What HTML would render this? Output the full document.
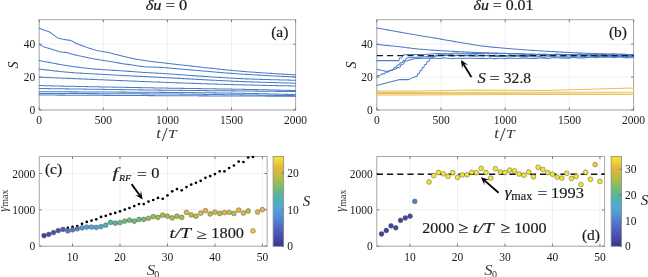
<!DOCTYPE html><html><head><meta charset="utf-8"><style>html,body{margin:0;padding:0;background:#fff;overflow:hidden} svg{display:block;will-change:transform} text{font-family:"Liberation Serif", serif;fill:#1a1a1a}</style></head><body>
<svg width="648" height="277" viewBox="0 0 648 277">
<rect width="648" height="277" fill="#fff"/>
<line x1="39.2" y1="19.7" x2="39.2" y2="110" stroke="#ececec" stroke-width="0.8"/>
<line x1="103.3" y1="19.7" x2="103.3" y2="110" stroke="#ececec" stroke-width="0.8"/>
<line x1="167.4" y1="19.7" x2="167.4" y2="110" stroke="#ececec" stroke-width="0.8"/>
<line x1="231.5" y1="19.7" x2="231.5" y2="110" stroke="#ececec" stroke-width="0.8"/>
<line x1="295.6" y1="19.7" x2="295.6" y2="110" stroke="#ececec" stroke-width="0.8"/>
<line x1="39.2" y1="110" x2="295.6" y2="110" stroke="#ececec" stroke-width="0.8"/>
<line x1="39.2" y1="77.1" x2="295.6" y2="77.1" stroke="#ececec" stroke-width="0.8"/>
<line x1="39.2" y1="44.2" x2="295.6" y2="44.2" stroke="#ececec" stroke-width="0.8"/>
<line x1="376.8" y1="19.7" x2="376.8" y2="110" stroke="#ececec" stroke-width="0.8"/>
<line x1="441" y1="19.7" x2="441" y2="110" stroke="#ececec" stroke-width="0.8"/>
<line x1="505.2" y1="19.7" x2="505.2" y2="110" stroke="#ececec" stroke-width="0.8"/>
<line x1="569.4" y1="19.7" x2="569.4" y2="110" stroke="#ececec" stroke-width="0.8"/>
<line x1="633.6" y1="19.7" x2="633.6" y2="110" stroke="#ececec" stroke-width="0.8"/>
<line x1="376.8" y1="110" x2="633.6" y2="110" stroke="#ececec" stroke-width="0.8"/>
<line x1="376.8" y1="77.1" x2="633.6" y2="77.1" stroke="#ececec" stroke-width="0.8"/>
<line x1="376.8" y1="44.2" x2="633.6" y2="44.2" stroke="#ececec" stroke-width="0.8"/>
<line x1="72.53" y1="156.5" x2="72.53" y2="246.2" stroke="#ececec" stroke-width="0.8"/>
<line x1="120" y1="156.5" x2="120" y2="246.2" stroke="#ececec" stroke-width="0.8"/>
<line x1="167.47" y1="156.5" x2="167.47" y2="246.2" stroke="#ececec" stroke-width="0.8"/>
<line x1="214.94" y1="156.5" x2="214.94" y2="246.2" stroke="#ececec" stroke-width="0.8"/>
<line x1="262.41" y1="156.5" x2="262.41" y2="246.2" stroke="#ececec" stroke-width="0.8"/>
<line x1="39.3" y1="246.2" x2="267.1" y2="246.2" stroke="#ececec" stroke-width="0.8"/>
<line x1="39.3" y1="209.85" x2="267.1" y2="209.85" stroke="#ececec" stroke-width="0.8"/>
<line x1="39.3" y1="173.5" x2="267.1" y2="173.5" stroke="#ececec" stroke-width="0.8"/>
<line x1="410.03" y1="156.5" x2="410.03" y2="246.2" stroke="#ececec" stroke-width="0.8"/>
<line x1="457.5" y1="156.5" x2="457.5" y2="246.2" stroke="#ececec" stroke-width="0.8"/>
<line x1="504.97" y1="156.5" x2="504.97" y2="246.2" stroke="#ececec" stroke-width="0.8"/>
<line x1="552.44" y1="156.5" x2="552.44" y2="246.2" stroke="#ececec" stroke-width="0.8"/>
<line x1="599.91" y1="156.5" x2="599.91" y2="246.2" stroke="#ececec" stroke-width="0.8"/>
<line x1="376.8" y1="246.2" x2="604.6" y2="246.2" stroke="#ececec" stroke-width="0.8"/>
<line x1="376.8" y1="209.85" x2="604.6" y2="209.85" stroke="#ececec" stroke-width="0.8"/>
<line x1="376.8" y1="173.5" x2="604.6" y2="173.5" stroke="#ececec" stroke-width="0.8"/>
<rect x="39.2" y="19.7" width="256.4" height="90.3" fill="none" stroke="#a8a8a8" stroke-width="1"/>
<line x1="39.2" y1="110" x2="39.2" y2="107.5" stroke="#6e6e6e" stroke-width="0.9"/>
<line x1="39.2" y1="19.7" x2="39.2" y2="22.2" stroke="#6e6e6e" stroke-width="0.9"/>
<text x="39.2" y="124.2" font-size="11.5" text-anchor="middle" style="" >0</text>
<line x1="103.3" y1="110" x2="103.3" y2="107.5" stroke="#6e6e6e" stroke-width="0.9"/>
<line x1="103.3" y1="19.7" x2="103.3" y2="22.2" stroke="#6e6e6e" stroke-width="0.9"/>
<text x="103.3" y="124.2" font-size="11.5" text-anchor="middle" style="" >500</text>
<line x1="167.4" y1="110" x2="167.4" y2="107.5" stroke="#6e6e6e" stroke-width="0.9"/>
<line x1="167.4" y1="19.7" x2="167.4" y2="22.2" stroke="#6e6e6e" stroke-width="0.9"/>
<text x="167.4" y="124.2" font-size="11.5" text-anchor="middle" style="" >1000</text>
<line x1="231.5" y1="110" x2="231.5" y2="107.5" stroke="#6e6e6e" stroke-width="0.9"/>
<line x1="231.5" y1="19.7" x2="231.5" y2="22.2" stroke="#6e6e6e" stroke-width="0.9"/>
<text x="231.5" y="124.2" font-size="11.5" text-anchor="middle" style="" >1500</text>
<line x1="295.6" y1="110" x2="295.6" y2="107.5" stroke="#6e6e6e" stroke-width="0.9"/>
<line x1="295.6" y1="19.7" x2="295.6" y2="22.2" stroke="#6e6e6e" stroke-width="0.9"/>
<text x="295.6" y="124.2" font-size="11.5" text-anchor="middle" style="" >2000</text>
<line x1="39.2" y1="110" x2="41.7" y2="110" stroke="#6e6e6e" stroke-width="0.9"/>
<line x1="295.6" y1="110" x2="293.1" y2="110" stroke="#6e6e6e" stroke-width="0.9"/>
<text x="35.2" y="114" font-size="11.5" text-anchor="end" style="" >0</text>
<line x1="39.2" y1="77.1" x2="41.7" y2="77.1" stroke="#6e6e6e" stroke-width="0.9"/>
<line x1="295.6" y1="77.1" x2="293.1" y2="77.1" stroke="#6e6e6e" stroke-width="0.9"/>
<text x="35.2" y="81.1" font-size="11.5" text-anchor="end" style="" >20</text>
<line x1="39.2" y1="44.2" x2="41.7" y2="44.2" stroke="#6e6e6e" stroke-width="0.9"/>
<line x1="295.6" y1="44.2" x2="293.1" y2="44.2" stroke="#6e6e6e" stroke-width="0.9"/>
<text x="35.2" y="48.2" font-size="11.5" text-anchor="end" style="" >40</text>
<rect x="376.8" y="19.7" width="256.8" height="90.3" fill="none" stroke="#a8a8a8" stroke-width="1"/>
<line x1="376.8" y1="110" x2="376.8" y2="107.5" stroke="#6e6e6e" stroke-width="0.9"/>
<line x1="376.8" y1="19.7" x2="376.8" y2="22.2" stroke="#6e6e6e" stroke-width="0.9"/>
<text x="376.8" y="124.2" font-size="11.5" text-anchor="middle" style="" >0</text>
<line x1="441" y1="110" x2="441" y2="107.5" stroke="#6e6e6e" stroke-width="0.9"/>
<line x1="441" y1="19.7" x2="441" y2="22.2" stroke="#6e6e6e" stroke-width="0.9"/>
<text x="441" y="124.2" font-size="11.5" text-anchor="middle" style="" >500</text>
<line x1="505.2" y1="110" x2="505.2" y2="107.5" stroke="#6e6e6e" stroke-width="0.9"/>
<line x1="505.2" y1="19.7" x2="505.2" y2="22.2" stroke="#6e6e6e" stroke-width="0.9"/>
<text x="505.2" y="124.2" font-size="11.5" text-anchor="middle" style="" >1000</text>
<line x1="569.4" y1="110" x2="569.4" y2="107.5" stroke="#6e6e6e" stroke-width="0.9"/>
<line x1="569.4" y1="19.7" x2="569.4" y2="22.2" stroke="#6e6e6e" stroke-width="0.9"/>
<text x="569.4" y="124.2" font-size="11.5" text-anchor="middle" style="" >1500</text>
<line x1="633.6" y1="110" x2="633.6" y2="107.5" stroke="#6e6e6e" stroke-width="0.9"/>
<line x1="633.6" y1="19.7" x2="633.6" y2="22.2" stroke="#6e6e6e" stroke-width="0.9"/>
<text x="633.6" y="124.2" font-size="11.5" text-anchor="middle" style="" >2000</text>
<line x1="376.8" y1="110" x2="379.3" y2="110" stroke="#6e6e6e" stroke-width="0.9"/>
<line x1="633.6" y1="110" x2="631.1" y2="110" stroke="#6e6e6e" stroke-width="0.9"/>
<text x="372.8" y="114" font-size="11.5" text-anchor="end" style="" >0</text>
<line x1="376.8" y1="77.1" x2="379.3" y2="77.1" stroke="#6e6e6e" stroke-width="0.9"/>
<line x1="633.6" y1="77.1" x2="631.1" y2="77.1" stroke="#6e6e6e" stroke-width="0.9"/>
<text x="372.8" y="81.1" font-size="11.5" text-anchor="end" style="" >20</text>
<line x1="376.8" y1="44.2" x2="379.3" y2="44.2" stroke="#6e6e6e" stroke-width="0.9"/>
<line x1="633.6" y1="44.2" x2="631.1" y2="44.2" stroke="#6e6e6e" stroke-width="0.9"/>
<text x="372.8" y="48.2" font-size="11.5" text-anchor="end" style="" >40</text>
<rect x="39.3" y="156.5" width="227.8" height="89.7" fill="none" stroke="#a8a8a8" stroke-width="1"/>
<line x1="72.53" y1="246.2" x2="72.53" y2="243.7" stroke="#6e6e6e" stroke-width="0.9"/>
<line x1="72.53" y1="156.5" x2="72.53" y2="159" stroke="#6e6e6e" stroke-width="0.9"/>
<text x="72.53" y="260.5" font-size="11.5" text-anchor="middle" style="" >10</text>
<line x1="120" y1="246.2" x2="120" y2="243.7" stroke="#6e6e6e" stroke-width="0.9"/>
<line x1="120" y1="156.5" x2="120" y2="159" stroke="#6e6e6e" stroke-width="0.9"/>
<text x="120" y="260.5" font-size="11.5" text-anchor="middle" style="" >20</text>
<line x1="167.47" y1="246.2" x2="167.47" y2="243.7" stroke="#6e6e6e" stroke-width="0.9"/>
<line x1="167.47" y1="156.5" x2="167.47" y2="159" stroke="#6e6e6e" stroke-width="0.9"/>
<text x="167.47" y="260.5" font-size="11.5" text-anchor="middle" style="" >30</text>
<line x1="214.94" y1="246.2" x2="214.94" y2="243.7" stroke="#6e6e6e" stroke-width="0.9"/>
<line x1="214.94" y1="156.5" x2="214.94" y2="159" stroke="#6e6e6e" stroke-width="0.9"/>
<text x="214.94" y="260.5" font-size="11.5" text-anchor="middle" style="" >40</text>
<line x1="262.41" y1="246.2" x2="262.41" y2="243.7" stroke="#6e6e6e" stroke-width="0.9"/>
<line x1="262.41" y1="156.5" x2="262.41" y2="159" stroke="#6e6e6e" stroke-width="0.9"/>
<text x="262.41" y="260.5" font-size="11.5" text-anchor="middle" style="" >50</text>
<line x1="39.3" y1="246.2" x2="41.8" y2="246.2" stroke="#6e6e6e" stroke-width="0.9"/>
<line x1="267.1" y1="246.2" x2="264.6" y2="246.2" stroke="#6e6e6e" stroke-width="0.9"/>
<text x="35.3" y="250.2" font-size="11.5" text-anchor="end" style="" >0</text>
<line x1="39.3" y1="209.85" x2="41.8" y2="209.85" stroke="#6e6e6e" stroke-width="0.9"/>
<line x1="267.1" y1="209.85" x2="264.6" y2="209.85" stroke="#6e6e6e" stroke-width="0.9"/>
<text x="35.3" y="213.85" font-size="11.5" text-anchor="end" style="" >1000</text>
<line x1="39.3" y1="173.5" x2="41.8" y2="173.5" stroke="#6e6e6e" stroke-width="0.9"/>
<line x1="267.1" y1="173.5" x2="264.6" y2="173.5" stroke="#6e6e6e" stroke-width="0.9"/>
<text x="35.3" y="177.5" font-size="11.5" text-anchor="end" style="" >2000</text>
<rect x="376.8" y="156.5" width="227.8" height="89.7" fill="none" stroke="#a8a8a8" stroke-width="1"/>
<line x1="410.03" y1="246.2" x2="410.03" y2="243.7" stroke="#6e6e6e" stroke-width="0.9"/>
<line x1="410.03" y1="156.5" x2="410.03" y2="159" stroke="#6e6e6e" stroke-width="0.9"/>
<text x="410.03" y="260.5" font-size="11.5" text-anchor="middle" style="" >10</text>
<line x1="457.5" y1="246.2" x2="457.5" y2="243.7" stroke="#6e6e6e" stroke-width="0.9"/>
<line x1="457.5" y1="156.5" x2="457.5" y2="159" stroke="#6e6e6e" stroke-width="0.9"/>
<text x="457.5" y="260.5" font-size="11.5" text-anchor="middle" style="" >20</text>
<line x1="504.97" y1="246.2" x2="504.97" y2="243.7" stroke="#6e6e6e" stroke-width="0.9"/>
<line x1="504.97" y1="156.5" x2="504.97" y2="159" stroke="#6e6e6e" stroke-width="0.9"/>
<text x="504.97" y="260.5" font-size="11.5" text-anchor="middle" style="" >30</text>
<line x1="552.44" y1="246.2" x2="552.44" y2="243.7" stroke="#6e6e6e" stroke-width="0.9"/>
<line x1="552.44" y1="156.5" x2="552.44" y2="159" stroke="#6e6e6e" stroke-width="0.9"/>
<text x="552.44" y="260.5" font-size="11.5" text-anchor="middle" style="" >40</text>
<line x1="599.91" y1="246.2" x2="599.91" y2="243.7" stroke="#6e6e6e" stroke-width="0.9"/>
<line x1="599.91" y1="156.5" x2="599.91" y2="159" stroke="#6e6e6e" stroke-width="0.9"/>
<text x="599.91" y="260.5" font-size="11.5" text-anchor="middle" style="" >50</text>
<line x1="376.8" y1="246.2" x2="379.3" y2="246.2" stroke="#6e6e6e" stroke-width="0.9"/>
<line x1="604.6" y1="246.2" x2="602.1" y2="246.2" stroke="#6e6e6e" stroke-width="0.9"/>
<text x="372.8" y="250.2" font-size="11.5" text-anchor="end" style="" >0</text>
<line x1="376.8" y1="209.85" x2="379.3" y2="209.85" stroke="#6e6e6e" stroke-width="0.9"/>
<line x1="604.6" y1="209.85" x2="602.1" y2="209.85" stroke="#6e6e6e" stroke-width="0.9"/>
<text x="372.8" y="213.85" font-size="11.5" text-anchor="end" style="" >1000</text>
<line x1="376.8" y1="173.5" x2="379.3" y2="173.5" stroke="#6e6e6e" stroke-width="0.9"/>
<line x1="604.6" y1="173.5" x2="602.1" y2="173.5" stroke="#6e6e6e" stroke-width="0.9"/>
<text x="372.8" y="177.5" font-size="11.5" text-anchor="end" style="" >2000</text>
<path d="M39.2,28.2 L40.71,28.74 L42.5,29.4 L44.7,30.4 L46.79,30.97 L49,31.7 L50.66,32.73 L52.2,33.9 L53.85,35.17 L55.5,36.4 L57.03,37.39 L58.7,38.2 L60.83,38.83 L63.1,39.3 L65.31,39.62 L67.4,39.9 L69.05,40.12 L70.8,40.6 L72.33,41.33 L74.05,42.27 L75.9,43.2 L77.33,43.82 L78.82,44.42 L80.42,45.04 L82.2,45.7 L83.83,46.3 L85.63,46.95 L87.49,47.62 L89.32,48.25 L91,48.8 L92.79,49.36 L94.39,49.82 L96.04,50.25 L98,50.7 L99.31,50.96 L100.7,51.2 L102.18,51.45 L103.72,51.69 L105.31,51.96 L106.94,52.26 L108.6,52.6 L110.09,52.94 L111.63,53.32 L113.21,53.72 L114.82,54.14 L116.45,54.56 L118.08,54.99 L119.7,55.41 L121.3,55.8 L122.88,56.18 L124.46,56.56 L126.03,56.94 L127.61,57.32 L129.18,57.68 L130.75,58.04 L132.33,58.38 L133.9,58.7 L135.43,59 L136.89,59.27 L138.32,59.53 L139.77,59.78 L141.27,60.03 L142.86,60.27 L144.59,60.53 L146.5,60.8 L147.64,60.96 L148.61,61.1 L149.49,61.23 L150.34,61.35 L151.2,61.46 L152.14,61.59 L153.23,61.73 L154.51,61.88 L156.05,62.07 L157.91,62.28 L160.15,62.54 L162.83,62.84 L166,63.2 L167,63.31 L168.05,63.43 L169.15,63.55 L170.29,63.68 L171.48,63.82 L172.72,63.96 L173.99,64.11 L175.31,64.26 L176.66,64.41 L178.05,64.57 L179.47,64.73 L180.92,64.9 L182.41,65.07 L183.92,65.24 L185.46,65.42 L187.02,65.6 L188.61,65.78 L190.22,65.96 L191.84,66.14 L193.48,66.33 L195.14,66.52 L196.81,66.71 L198.49,66.89 L200.19,67.08 L201.88,67.27 L203.59,67.46 L205.3,67.65 L207.01,67.84 L208.72,68.02 L210.43,68.21 L212.13,68.39 L213.83,68.58 L215.53,68.76 L217.21,68.94 L218.88,69.11 L220.54,69.28 L222.19,69.45 L223.81,69.62 L225.42,69.78 L227.01,69.94 L228.57,70.1 L230.12,70.25 L231.63,70.39 L233.12,70.53 L234.57,70.67 L236,70.8 L237.67,70.95 L239.37,71.1 L241.09,71.24 L242.82,71.38 L244.57,71.53 L246.34,71.66 L248.11,71.8 L249.9,71.94 L251.68,72.07 L253.48,72.2 L255.27,72.33 L257.06,72.45 L258.84,72.58 L260.62,72.7 L262.39,72.82 L264.15,72.94 L265.89,73.05 L267.62,73.16 L269.33,73.27 L271.02,73.38 L272.68,73.48 L274.31,73.58 L275.92,73.68 L277.49,73.78 L279.03,73.88 L280.53,73.97 L282,74.06 L283.42,74.14 L284.8,74.22 L286.13,74.31 L287.41,74.38 L288.64,74.46 L289.82,74.53 L290.94,74.6 L292,74.67 L293,74.73 L293.93,74.79 L294.8,74.85 L295.6,74.9" fill="none" stroke="#4c7cc8" stroke-width="1.05" stroke-linejoin="round" stroke-linecap="round" />
<path d="M39.2,44.4 L40.52,45.11 L42.41,46.11 L44.3,47 L45.96,47.6 L47.61,48.09 L49.4,48.6 L50.92,49.04 L52.56,49.5 L54.19,49.96 L55.7,50.4 L57.41,50.99 L58.99,51.55 L60.7,52 L62.18,52.19 L63.76,52.28 L65.39,52.38 L67,52.6 L68.54,52.98 L70.04,53.47 L71.63,53.99 L73.4,54.5 L75.01,54.88 L76.75,55.26 L78.56,55.64 L80.4,56.02 L82.2,56.4 L83.99,56.79 L85.81,57.19 L87.61,57.58 L89.36,57.96 L91,58.3 L92.79,58.66 L94.39,58.97 L96.04,59.27 L98,59.6 L99.31,59.81 L100.7,60.02 L102.18,60.23 L103.72,60.46 L105.31,60.69 L106.94,60.94 L108.6,61.2 L110.09,61.45 L111.63,61.71 L113.21,61.99 L114.82,62.28 L116.45,62.57 L118.08,62.86 L119.7,63.14 L121.3,63.4 L122.88,63.65 L124.46,63.9 L126.03,64.15 L127.61,64.39 L129.18,64.62 L130.75,64.85 L132.33,65.08 L133.9,65.3 L135.43,65.52 L136.89,65.74 L138.32,65.95 L139.77,66.16 L141.27,66.36 L142.86,66.56 L144.59,66.74 L146.5,66.9 L147.64,66.98 L148.61,67.03 L149.49,67.05 L150.34,67.06 L151.2,67.07 L152.14,67.08 L153.23,67.09 L154.51,67.12 L156.05,67.18 L157.91,67.27 L160.15,67.39 L162.83,67.57 L166,67.8 L167,67.88 L168.05,67.96 L169.15,68.05 L170.29,68.14 L171.48,68.24 L172.72,68.34 L173.99,68.45 L175.31,68.56 L176.66,68.68 L178.05,68.8 L179.47,68.92 L180.92,69.05 L182.41,69.18 L183.92,69.31 L185.46,69.45 L187.02,69.58 L188.61,69.73 L190.22,69.87 L191.84,70.01 L193.48,70.16 L195.14,70.3 L196.81,70.45 L198.49,70.6 L200.19,70.75 L201.88,70.9 L203.59,71.05 L205.3,71.2 L207.01,71.35 L208.72,71.5 L210.43,71.64 L212.13,71.79 L213.83,71.93 L215.53,72.08 L217.21,72.22 L218.88,72.36 L220.54,72.5 L222.19,72.63 L223.81,72.77 L225.42,72.9 L227.01,73.02 L228.57,73.14 L230.12,73.26 L231.63,73.38 L233.12,73.49 L234.57,73.6 L236,73.7 L237.67,73.82 L239.37,73.93 L241.09,74.05 L242.82,74.16 L244.57,74.27 L246.34,74.38 L248.11,74.49 L249.9,74.6 L251.68,74.71 L253.48,74.81 L255.27,74.91 L257.06,75.02 L258.84,75.11 L260.62,75.21 L262.39,75.31 L264.15,75.4 L265.89,75.5 L267.62,75.59 L269.33,75.68 L271.02,75.76 L272.68,75.85 L274.31,75.93 L275.92,76.01 L277.49,76.09 L279.03,76.17 L280.53,76.24 L282,76.31 L283.42,76.38 L284.8,76.45 L286.13,76.52 L287.41,76.58 L288.64,76.64 L289.82,76.7 L290.94,76.76 L292,76.81 L293,76.86 L293.93,76.91 L294.8,76.96 L295.6,77" fill="none" stroke="#4c7cc8" stroke-width="1.05" stroke-linejoin="round" stroke-linecap="round" />
<path d="M39.2,60.6 L40.22,60.79 L41.59,61.04 L43.22,61.34 L45.03,61.68 L46.92,62.02 L48.8,62.37 L50.6,62.7 L52.13,62.98 L53.69,63.27 L55.27,63.57 L56.88,63.86 L58.49,64.16 L60.1,64.45 L61.71,64.73 L63.3,65 L64.88,65.26 L66.46,65.51 L68.03,65.76 L69.61,66 L71.18,66.23 L72.75,66.46 L74.33,66.68 L75.9,66.9 L77.5,67.11 L79.12,67.32 L80.76,67.52 L82.39,67.71 L84,67.9 L85.57,68.08 L87.07,68.24 L88.5,68.4 L90.1,68.58 L91.39,68.72 L92.58,68.85 L93.93,68.98 L95.65,69.12 L98,69.3 L99.15,69.38 L100.4,69.47 L101.75,69.56 L103.17,69.65 L104.67,69.74 L106.24,69.84 L107.85,69.94 L109.5,70.05 L111.18,70.15 L112.88,70.26 L114.59,70.36 L116.3,70.47 L117.99,70.58 L119.66,70.69 L121.3,70.8 L122.83,70.91 L124.4,71.02 L125.99,71.13 L127.6,71.25 L129.23,71.36 L130.86,71.48 L132.5,71.6 L134.14,71.72 L135.77,71.84 L137.38,71.96 L138.98,72.08 L140.56,72.19 L142.1,72.3 L143.61,72.41 L145.08,72.51 L146.5,72.6 L148.05,72.7 L149.31,72.77 L150.35,72.83 L151.27,72.87 L152.12,72.91 L152.99,72.95 L153.95,72.99 L155.08,73.05 L156.46,73.12 L158.17,73.21 L160.28,73.34 L162.86,73.5 L166,73.7 L167,73.77 L168.05,73.84 L169.15,73.91 L170.29,73.99 L171.48,74.07 L172.72,74.16 L173.99,74.25 L175.31,74.34 L176.66,74.43 L178.05,74.53 L179.47,74.64 L180.92,74.74 L182.41,74.85 L183.92,74.96 L185.46,75.07 L187.02,75.18 L188.61,75.29 L190.22,75.41 L191.84,75.53 L193.48,75.64 L195.14,75.76 L196.81,75.88 L198.49,76 L200.19,76.12 L201.88,76.24 L203.59,76.36 L205.3,76.48 L207.01,76.6 L208.72,76.71 L210.43,76.83 L212.13,76.95 L213.83,77.06 L215.53,77.17 L217.21,77.28 L218.88,77.39 L220.54,77.5 L222.19,77.6 L223.81,77.7 L225.42,77.8 L227.01,77.9 L228.57,77.99 L230.12,78.08 L231.63,78.17 L233.12,78.25 L234.57,78.33 L236,78.4 L237.67,78.48 L239.37,78.56 L241.09,78.64 L242.82,78.72 L244.57,78.79 L246.34,78.87 L248.11,78.94 L249.9,79 L251.68,79.07 L253.48,79.13 L255.27,79.19 L257.06,79.25 L258.84,79.31 L260.62,79.37 L262.39,79.42 L264.15,79.47 L265.89,79.52 L267.62,79.57 L269.33,79.62 L271.02,79.67 L272.68,79.71 L274.31,79.75 L275.92,79.8 L277.49,79.84 L279.03,79.87 L280.53,79.91 L282,79.95 L283.42,79.98 L284.8,80.02 L286.13,80.05 L287.41,80.08 L288.64,80.11 L289.82,80.14 L290.94,80.17 L292,80.2 L293,80.22 L293.93,80.25 L294.8,80.28 L295.6,80.3" fill="none" stroke="#4c7cc8" stroke-width="1.05" stroke-linejoin="round" stroke-linecap="round" />
<path d="M39.2,69.1 L40.04,69.2 L41.05,69.31 L42.21,69.45 L43.5,69.61 L44.91,69.77 L46.42,69.95 L48.02,70.14 L49.67,70.34 L51.38,70.54 L53.12,70.73 L54.88,70.93 L56.63,71.12 L58.37,71.31 L60.07,71.49 L61.72,71.65 L63.3,71.8 L64.75,71.93 L66.04,72.05 L67.21,72.16 L68.3,72.26 L69.34,72.35 L70.37,72.44 L71.43,72.53 L72.56,72.61 L73.8,72.7 L75.17,72.8 L76.73,72.9 L78.5,73.01 L80.52,73.13 L82.84,73.27 L85.49,73.43 L88.5,73.6 L89.53,73.66 L90.6,73.72 L91.71,73.78 L92.86,73.85 L94.04,73.91 L95.27,73.98 L96.53,74.05 L97.82,74.12 L99.14,74.19 L100.5,74.27 L101.88,74.34 L103.3,74.42 L104.74,74.49 L106.2,74.57 L107.69,74.65 L109.2,74.73 L110.74,74.81 L112.29,74.9 L113.86,74.98 L115.45,75.06 L117.06,75.15 L118.68,75.23 L120.31,75.32 L121.96,75.41 L123.62,75.49 L125.28,75.58 L126.96,75.67 L128.64,75.76 L130.32,75.84 L132.01,75.93 L133.71,76.02 L135.4,76.11 L137.09,76.2 L138.79,76.29 L140.47,76.37 L142.16,76.46 L143.84,76.55 L145.51,76.63 L147.17,76.72 L148.83,76.81 L150.47,76.89 L152.1,76.98 L153.72,77.06 L155.32,77.14 L156.91,77.23 L158.47,77.31 L160.02,77.39 L161.55,77.47 L163.06,77.55 L164.54,77.62 L166,77.7 L167.6,77.78 L169.2,77.87 L170.8,77.95 L172.39,78.04 L173.99,78.12 L175.58,78.21 L177.16,78.29 L178.75,78.38 L180.33,78.46 L181.91,78.55 L183.48,78.63 L185.06,78.72 L186.63,78.8 L188.19,78.89 L189.75,78.97 L191.31,79.06 L192.87,79.14 L194.42,79.22 L195.97,79.31 L197.51,79.39 L199.05,79.47 L200.59,79.56 L202.12,79.64 L203.65,79.72 L205.17,79.8 L206.69,79.88 L208.2,79.96 L209.71,80.04 L211.22,80.12 L212.72,80.19 L214.21,80.27 L215.7,80.35 L217.19,80.42 L218.67,80.49 L220.14,80.57 L221.61,80.64 L223.08,80.71 L224.54,80.78 L225.99,80.85 L227.44,80.92 L228.88,80.98 L230.32,81.05 L231.75,81.11 L233.17,81.18 L234.59,81.24 L236,81.3 L237.67,81.37 L239.37,81.44 L241.09,81.51 L242.82,81.57 L244.57,81.64 L246.34,81.7 L248.11,81.77 L249.9,81.83 L251.68,81.89 L253.48,81.95 L255.27,82.01 L257.06,82.07 L258.84,82.13 L260.62,82.19 L262.39,82.24 L264.15,82.3 L265.89,82.35 L267.62,82.4 L269.33,82.45 L271.02,82.5 L272.68,82.55 L274.31,82.59 L275.92,82.64 L277.49,82.68 L279.03,82.73 L280.53,82.77 L282,82.81 L283.42,82.85 L284.8,82.89 L286.13,82.93 L287.41,82.96 L288.64,83 L289.82,83.03 L290.94,83.06 L292,83.09 L293,83.12 L293.93,83.15 L294.8,83.17 L295.6,83.2" fill="none" stroke="#4c7cc8" stroke-width="1.05" stroke-linejoin="round" stroke-linecap="round" />
<path d="M39.2,77.2 L39.96,77.23 L40.68,77.26 L41.39,77.29 L42.11,77.32 L42.88,77.35 L43.73,77.39 L44.68,77.42 L45.75,77.47 L46.99,77.52 L48.41,77.58 L50.05,77.65 L51.94,77.72 L54.09,77.81 L56.55,77.91 L59.33,78.03 L62.47,78.16 L66,78.3 L66.98,78.34 L68,78.38 L69.06,78.43 L70.15,78.47 L71.29,78.52 L72.45,78.57 L73.65,78.62 L74.89,78.67 L76.15,78.72 L77.45,78.78 L78.78,78.83 L80.13,78.89 L81.52,78.95 L82.92,79 L84.36,79.06 L85.82,79.13 L87.3,79.19 L88.8,79.25 L90.33,79.31 L91.88,79.38 L93.44,79.44 L95.02,79.51 L96.62,79.58 L98.24,79.65 L99.87,79.71 L101.51,79.78 L103.16,79.85 L104.83,79.92 L106.51,79.99 L108.2,80.06 L109.89,80.13 L111.59,80.2 L113.3,80.28 L115.01,80.35 L116.73,80.42 L118.45,80.49 L120.17,80.56 L121.89,80.63 L123.61,80.7 L125.33,80.77 L127.05,80.84 L128.77,80.92 L130.47,80.99 L132.18,81.06 L133.87,81.13 L135.56,81.19 L137.24,81.26 L138.91,81.33 L140.57,81.4 L142.22,81.46 L143.85,81.53 L145.47,81.6 L147.07,81.66 L148.65,81.72 L150.22,81.79 L151.77,81.85 L153.3,81.91 L154.81,81.97 L156.3,82.03 L157.76,82.08 L159.2,82.14 L160.62,82.19 L162,82.25 L163.36,82.3 L164.7,82.35 L166,82.4 L167.84,82.47 L169.65,82.54 L171.44,82.6 L173.21,82.67 L174.96,82.73 L176.69,82.8 L178.4,82.86 L180.08,82.92 L181.75,82.98 L183.41,83.04 L185.04,83.1 L186.66,83.15 L188.26,83.21 L189.85,83.26 L191.42,83.32 L192.98,83.37 L194.52,83.43 L196.05,83.48 L197.57,83.53 L199.07,83.58 L200.57,83.63 L202.05,83.68 L203.53,83.72 L204.99,83.77 L206.44,83.82 L207.89,83.87 L209.33,83.91 L210.76,83.96 L212.19,84 L213.6,84.04 L215.02,84.09 L216.43,84.13 L217.83,84.17 L219.23,84.22 L220.63,84.26 L222.03,84.3 L223.42,84.34 L224.82,84.38 L226.21,84.42 L227.6,84.46 L229,84.5 L230.39,84.54 L231.79,84.58 L233.19,84.62 L234.59,84.66 L236,84.7 L237.67,84.75 L239.37,84.79 L241.09,84.84 L242.82,84.88 L244.57,84.92 L246.34,84.97 L248.11,85.01 L249.9,85.05 L251.68,85.09 L253.48,85.14 L255.27,85.18 L257.06,85.22 L258.84,85.26 L260.62,85.29 L262.39,85.33 L264.15,85.37 L265.89,85.41 L267.62,85.44 L269.33,85.48 L271.02,85.51 L272.68,85.54 L274.31,85.58 L275.92,85.61 L277.49,85.64 L279.03,85.67 L280.53,85.7 L282,85.73 L283.42,85.76 L284.8,85.78 L286.13,85.81 L287.41,85.83 L288.64,85.86 L289.82,85.88 L290.94,85.9 L292,85.93 L293,85.95 L293.93,85.96 L294.8,85.98 L295.6,86" fill="none" stroke="#4c7cc8" stroke-width="1.05" stroke-linejoin="round" stroke-linecap="round" />
<path d="M39.2,85.5 L39.96,85.52 L40.68,85.54 L41.39,85.57 L42.11,85.59 L42.88,85.62 L43.73,85.65 L44.68,85.68 L45.75,85.71 L46.99,85.75 L48.41,85.79 L50.05,85.84 L51.94,85.88 L54.09,85.94 L56.55,86 L59.33,86.06 L62.47,86.13 L66,86.2 L66.98,86.22 L68,86.24 L69.06,86.26 L70.15,86.28 L71.29,86.31 L72.45,86.33 L73.65,86.35 L74.89,86.38 L76.15,86.4 L77.45,86.43 L78.78,86.46 L80.13,86.48 L81.52,86.51 L82.92,86.54 L84.36,86.57 L85.82,86.59 L87.3,86.62 L88.8,86.65 L90.33,86.68 L91.88,86.71 L93.44,86.74 L95.02,86.77 L96.62,86.81 L98.24,86.84 L99.87,86.87 L101.51,86.9 L103.16,86.93 L104.83,86.96 L106.51,87 L108.2,87.03 L109.89,87.06 L111.59,87.09 L113.3,87.12 L115.01,87.16 L116.73,87.19 L118.45,87.22 L120.17,87.26 L121.89,87.29 L123.61,87.32 L125.33,87.35 L127.05,87.39 L128.77,87.42 L130.47,87.45 L132.18,87.48 L133.87,87.51 L135.56,87.54 L137.24,87.58 L138.91,87.61 L140.57,87.64 L142.22,87.67 L143.85,87.7 L145.47,87.73 L147.07,87.76 L148.65,87.79 L150.22,87.82 L151.77,87.84 L153.3,87.87 L154.81,87.9 L156.3,87.93 L157.76,87.95 L159.2,87.98 L160.62,88 L162,88.03 L163.36,88.05 L164.7,88.08 L166,88.1 L167.84,88.13 L169.65,88.16 L171.44,88.19 L173.21,88.22 L174.96,88.25 L176.69,88.28 L178.4,88.31 L180.08,88.34 L181.75,88.36 L183.41,88.39 L185.04,88.41 L186.66,88.44 L188.26,88.46 L189.85,88.49 L191.42,88.51 L192.98,88.53 L194.52,88.56 L196.05,88.58 L197.57,88.6 L199.07,88.62 L200.57,88.64 L202.05,88.67 L203.53,88.69 L204.99,88.71 L206.44,88.73 L207.89,88.75 L209.33,88.77 L210.76,88.79 L212.19,88.81 L213.6,88.83 L215.02,88.86 L216.43,88.88 L217.83,88.9 L219.23,88.92 L220.63,88.94 L222.03,88.96 L223.42,88.98 L224.82,89.01 L226.21,89.03 L227.6,89.05 L229,89.08 L230.39,89.1 L231.79,89.12 L233.19,89.15 L234.59,89.17 L236,89.2 L237.67,89.23 L239.37,89.26 L241.09,89.3 L242.82,89.33 L244.57,89.37 L246.34,89.4 L248.11,89.44 L249.9,89.48 L251.68,89.51 L253.48,89.55 L255.27,89.59 L257.06,89.63 L258.84,89.67 L260.62,89.71 L262.39,89.74 L264.15,89.78 L265.89,89.82 L267.62,89.86 L269.33,89.9 L271.02,89.94 L272.68,89.98 L274.31,90.01 L275.92,90.05 L277.49,90.09 L279.03,90.12 L280.53,90.16 L282,90.19 L283.42,90.22 L284.8,90.25 L286.13,90.28 L287.41,90.31 L288.64,90.34 L289.82,90.37 L290.94,90.4 L292,90.42 L293,90.44 L293.93,90.46 L294.8,90.48 L295.6,90.5" fill="none" stroke="#4c7cc8" stroke-width="1.05" stroke-linejoin="round" stroke-linecap="round" />
<path d="M39.2,88.5 L39.98,88.51 L40.8,88.52 L41.66,88.53 L42.56,88.55 L43.5,88.56 L44.49,88.57 L45.51,88.59 L46.57,88.6 L47.66,88.61 L48.79,88.63 L49.96,88.65 L51.16,88.66 L52.39,88.68 L53.65,88.7 L54.95,88.71 L56.27,88.73 L57.63,88.75 L59.01,88.77 L60.42,88.79 L61.85,88.81 L63.32,88.83 L64.8,88.85 L66.31,88.87 L67.84,88.89 L69.4,88.91 L70.97,88.93 L72.56,88.96 L74.18,88.98 L75.81,89 L77.46,89.02 L79.12,89.05 L80.8,89.07 L82.49,89.09 L84.2,89.11 L85.92,89.14 L87.65,89.16 L89.39,89.19 L91.14,89.21 L92.9,89.23 L94.67,89.26 L96.44,89.28 L98.22,89.31 L100.01,89.33 L101.8,89.35 L103.59,89.38 L105.39,89.4 L107.18,89.43 L108.98,89.45 L110.77,89.48 L112.57,89.5 L114.36,89.52 L116.15,89.55 L117.93,89.57 L119.71,89.6 L121.48,89.62 L123.24,89.64 L125,89.67 L126.75,89.69 L128.49,89.71 L130.21,89.74 L131.93,89.76 L133.63,89.78 L135.32,89.81 L137,89.83 L138.66,89.85 L140.3,89.87 L141.92,89.89 L143.53,89.91 L145.12,89.93 L146.69,89.95 L148.23,89.97 L149.76,89.99 L151.26,90.01 L152.74,90.03 L154.19,90.05 L155.62,90.07 L157.02,90.09 L158.39,90.11 L159.74,90.12 L161.05,90.14 L162.34,90.15 L163.59,90.17 L164.81,90.19 L166,90.2 L168.11,90.23 L170.18,90.25 L172.2,90.27 L174.18,90.3 L176.12,90.32 L178.01,90.34 L179.86,90.36 L181.67,90.38 L183.45,90.4 L185.19,90.42 L186.9,90.44 L188.57,90.45 L190.21,90.47 L191.82,90.49 L193.4,90.5 L194.96,90.52 L196.49,90.53 L197.99,90.55 L199.48,90.56 L200.94,90.57 L202.38,90.59 L203.8,90.6 L205.2,90.61 L206.59,90.62 L207.96,90.64 L209.32,90.65 L210.67,90.66 L212.01,90.67 L213.34,90.68 L214.66,90.7 L215.98,90.71 L217.29,90.72 L218.6,90.73 L219.91,90.74 L221.22,90.75 L222.53,90.77 L223.84,90.78 L225.15,90.79 L226.47,90.8 L227.8,90.82 L229.14,90.83 L230.49,90.84 L231.84,90.86 L233.21,90.87 L234.6,90.89 L236,90.9 L237.67,90.92 L239.37,90.94 L241.09,90.96 L242.82,90.98 L244.57,90.99 L246.34,91.01 L248.11,91.03 L249.9,91.06 L251.68,91.08 L253.48,91.1 L255.27,91.12 L257.06,91.14 L258.84,91.16 L260.62,91.18 L262.39,91.2 L264.15,91.22 L265.89,91.24 L267.62,91.26 L269.33,91.28 L271.02,91.3 L272.68,91.32 L274.31,91.34 L275.92,91.36 L277.49,91.38 L279.03,91.4 L280.53,91.42 L282,91.44 L283.42,91.45 L284.8,91.47 L286.13,91.49 L287.41,91.5 L288.64,91.52 L289.82,91.53 L290.94,91.54 L292,91.56 L293,91.57 L293.93,91.58 L294.8,91.59 L295.6,91.6" fill="none" stroke="#4c7cc8" stroke-width="1.05" stroke-linejoin="round" stroke-linecap="round" />
<path d="M39.2,91.7 L39.98,91.7 L40.8,91.71 L41.66,91.71 L42.56,91.72 L43.5,91.72 L44.49,91.73 L45.51,91.73 L46.57,91.74 L47.66,91.74 L48.79,91.75 L49.96,91.76 L51.16,91.76 L52.39,91.77 L53.65,91.78 L54.95,91.78 L56.27,91.79 L57.63,91.79 L59.01,91.8 L60.42,91.81 L61.85,91.82 L63.32,91.82 L64.8,91.83 L66.31,91.84 L67.84,91.85 L69.4,91.85 L70.97,91.86 L72.56,91.87 L74.18,91.88 L75.81,91.89 L77.46,91.89 L79.12,91.9 L80.8,91.91 L82.49,91.92 L84.2,91.93 L85.92,91.94 L87.65,91.95 L89.39,91.95 L91.14,91.96 L92.9,91.97 L94.67,91.98 L96.44,91.99 L98.22,92 L100.01,92.01 L101.8,92.02 L103.59,92.03 L105.39,92.04 L107.18,92.05 L108.98,92.06 L110.77,92.07 L112.57,92.08 L114.36,92.08 L116.15,92.09 L117.93,92.1 L119.71,92.11 L121.48,92.12 L123.24,92.13 L125,92.14 L126.75,92.15 L128.49,92.16 L130.21,92.17 L131.93,92.18 L133.63,92.19 L135.32,92.2 L137,92.21 L138.66,92.22 L140.3,92.23 L141.92,92.24 L143.53,92.25 L145.12,92.26 L146.69,92.27 L148.23,92.28 L149.76,92.29 L151.26,92.3 L152.74,92.31 L154.19,92.32 L155.62,92.33 L157.02,92.34 L158.39,92.35 L159.74,92.35 L161.05,92.36 L162.34,92.37 L163.59,92.38 L164.81,92.39 L166,92.4 L168.11,92.42 L170.18,92.43 L172.2,92.45 L174.18,92.46 L176.12,92.48 L178.01,92.49 L179.86,92.51 L181.67,92.53 L183.45,92.54 L185.19,92.56 L186.9,92.57 L188.57,92.59 L190.21,92.6 L191.82,92.62 L193.4,92.63 L194.96,92.65 L196.49,92.66 L197.99,92.68 L199.48,92.69 L200.94,92.71 L202.38,92.72 L203.8,92.74 L205.2,92.76 L206.59,92.77 L207.96,92.79 L209.32,92.81 L210.67,92.82 L212.01,92.84 L213.34,92.86 L214.66,92.87 L215.98,92.89 L217.29,92.91 L218.6,92.93 L219.91,92.95 L221.22,92.96 L222.53,92.98 L223.84,93 L225.15,93.02 L226.47,93.04 L227.8,93.07 L229.14,93.09 L230.49,93.11 L231.84,93.13 L233.21,93.15 L234.6,93.18 L236,93.2 L237.67,93.23 L239.37,93.26 L241.09,93.29 L242.82,93.33 L244.57,93.36 L246.34,93.4 L248.11,93.43 L249.9,93.47 L251.68,93.51 L253.48,93.55 L255.27,93.59 L257.06,93.63 L258.84,93.67 L260.62,93.72 L262.39,93.76 L264.15,93.8 L265.89,93.84 L267.62,93.89 L269.33,93.93 L271.02,93.97 L272.68,94.01 L274.31,94.05 L275.92,94.1 L277.49,94.14 L279.03,94.18 L280.53,94.21 L282,94.25 L283.42,94.29 L284.8,94.33 L286.13,94.36 L287.41,94.39 L288.64,94.43 L289.82,94.46 L290.94,94.48 L292,94.51 L293,94.54 L293.93,94.56 L294.8,94.58 L295.6,94.6" fill="none" stroke="#4c7cc8" stroke-width="1.05" stroke-linejoin="round" stroke-linecap="round" />
<path d="M39.2,93.4 L39.98,93.4 L40.8,93.41 L41.66,93.41 L42.56,93.42 L43.5,93.42 L44.49,93.42 L45.51,93.43 L46.57,93.43 L47.66,93.44 L48.79,93.44 L49.96,93.45 L51.16,93.45 L52.39,93.46 L53.65,93.46 L54.95,93.47 L56.27,93.47 L57.63,93.48 L59.01,93.49 L60.42,93.49 L61.85,93.5 L63.32,93.5 L64.8,93.51 L66.31,93.52 L67.84,93.52 L69.4,93.53 L70.97,93.53 L72.56,93.54 L74.18,93.55 L75.81,93.55 L77.46,93.56 L79.12,93.57 L80.8,93.58 L82.49,93.58 L84.2,93.59 L85.92,93.6 L87.65,93.6 L89.39,93.61 L91.14,93.62 L92.9,93.63 L94.67,93.63 L96.44,93.64 L98.22,93.65 L100.01,93.66 L101.8,93.67 L103.59,93.67 L105.39,93.68 L107.18,93.69 L108.98,93.7 L110.77,93.71 L112.57,93.71 L114.36,93.72 L116.15,93.73 L117.93,93.74 L119.71,93.75 L121.48,93.75 L123.24,93.76 L125,93.77 L126.75,93.78 L128.49,93.79 L130.21,93.8 L131.93,93.8 L133.63,93.81 L135.32,93.82 L137,93.83 L138.66,93.84 L140.3,93.85 L141.92,93.86 L143.53,93.86 L145.12,93.87 L146.69,93.88 L148.23,93.89 L149.76,93.9 L151.26,93.91 L152.74,93.92 L154.19,93.92 L155.62,93.93 L157.02,93.94 L158.39,93.95 L159.74,93.96 L161.05,93.97 L162.34,93.97 L163.59,93.98 L164.81,93.99 L166,94 L168.11,94.02 L170.18,94.03 L172.2,94.05 L174.18,94.06 L176.12,94.08 L178.01,94.09 L179.86,94.11 L181.67,94.13 L183.45,94.14 L185.19,94.16 L186.9,94.18 L188.57,94.19 L190.21,94.21 L191.82,94.23 L193.4,94.24 L194.96,94.26 L196.49,94.28 L197.99,94.29 L199.48,94.31 L200.94,94.33 L202.38,94.35 L203.8,94.36 L205.2,94.38 L206.59,94.4 L207.96,94.42 L209.32,94.43 L210.67,94.45 L212.01,94.47 L213.34,94.49 L214.66,94.51 L215.98,94.52 L217.29,94.54 L218.6,94.56 L219.91,94.58 L221.22,94.6 L222.53,94.62 L223.84,94.63 L225.15,94.65 L226.47,94.67 L227.8,94.69 L229.14,94.71 L230.49,94.73 L231.84,94.74 L233.21,94.76 L234.6,94.78 L236,94.8 L237.67,94.82 L239.37,94.84 L241.09,94.87 L242.82,94.89 L244.57,94.92 L246.34,94.94 L248.11,94.97 L249.9,94.99 L251.68,95.02 L253.48,95.05 L255.27,95.07 L257.06,95.1 L258.84,95.13 L260.62,95.15 L262.39,95.18 L264.15,95.21 L265.89,95.23 L267.62,95.26 L269.33,95.29 L271.02,95.31 L272.68,95.34 L274.31,95.36 L275.92,95.39 L277.49,95.41 L279.03,95.44 L280.53,95.46 L282,95.49 L283.42,95.51 L284.8,95.53 L286.13,95.55 L287.41,95.57 L288.64,95.59 L289.82,95.61 L290.94,95.63 L292,95.64 L293,95.66 L293.93,95.67 L294.8,95.69 L295.6,95.7" fill="none" stroke="#4c7cc8" stroke-width="1.05" stroke-linejoin="round" stroke-linecap="round" />
<path d="M39.2,95 L39.98,95 L40.8,95.01 L41.66,95.01 L42.56,95.02 L43.5,95.02 L44.49,95.03 L45.51,95.04 L46.57,95.04 L47.66,95.05 L48.79,95.05 L49.96,95.06 L51.16,95.07 L52.39,95.07 L53.65,95.08 L54.95,95.09 L56.27,95.1 L57.63,95.1 L59.01,95.11 L60.42,95.12 L61.85,95.13 L63.32,95.14 L64.8,95.14 L66.31,95.15 L67.84,95.16 L69.4,95.17 L70.97,95.18 L72.56,95.19 L74.18,95.2 L75.81,95.21 L77.46,95.21 L79.12,95.22 L80.8,95.23 L82.49,95.24 L84.2,95.25 L85.92,95.26 L87.65,95.27 L89.39,95.28 L91.14,95.29 L92.9,95.3 L94.67,95.31 L96.44,95.32 L98.22,95.33 L100.01,95.34 L101.8,95.35 L103.59,95.36 L105.39,95.37 L107.18,95.38 L108.98,95.39 L110.77,95.4 L112.57,95.41 L114.36,95.42 L116.15,95.43 L117.93,95.44 L119.71,95.45 L121.48,95.46 L123.24,95.47 L125,95.48 L126.75,95.49 L128.49,95.5 L130.21,95.51 L131.93,95.52 L133.63,95.53 L135.32,95.54 L137,95.55 L138.66,95.55 L140.3,95.56 L141.92,95.57 L143.53,95.58 L145.12,95.59 L146.69,95.6 L148.23,95.61 L149.76,95.61 L151.26,95.62 L152.74,95.63 L154.19,95.64 L155.62,95.65 L157.02,95.65 L158.39,95.66 L159.74,95.67 L161.05,95.67 L162.34,95.68 L163.59,95.69 L164.81,95.69 L166,95.7 L168.11,95.71 L170.18,95.72 L172.2,95.73 L174.18,95.74 L176.12,95.75 L178.01,95.76 L179.86,95.77 L181.67,95.78 L183.45,95.79 L185.19,95.79 L186.9,95.8 L188.57,95.81 L190.21,95.82 L191.82,95.82 L193.4,95.83 L194.96,95.84 L196.49,95.84 L197.99,95.85 L199.48,95.86 L200.94,95.86 L202.38,95.87 L203.8,95.88 L205.2,95.88 L206.59,95.89 L207.96,95.89 L209.32,95.9 L210.67,95.9 L212.01,95.91 L213.34,95.91 L214.66,95.92 L215.98,95.92 L217.29,95.93 L218.6,95.93 L219.91,95.94 L221.22,95.94 L222.53,95.95 L223.84,95.95 L225.15,95.96 L226.47,95.96 L227.8,95.97 L229.14,95.97 L230.49,95.98 L231.84,95.98 L233.21,95.99 L234.6,95.99 L236,96 L237.67,96.01 L239.37,96.01 L241.09,96.02 L242.82,96.03 L244.57,96.03 L246.34,96.04 L248.11,96.04 L249.9,96.05 L251.68,96.06 L253.48,96.06 L255.27,96.07 L257.06,96.08 L258.84,96.08 L260.62,96.09 L262.39,96.09 L264.15,96.1 L265.89,96.1 L267.62,96.11 L269.33,96.12 L271.02,96.12 L272.68,96.13 L274.31,96.13 L275.92,96.14 L277.49,96.14 L279.03,96.15 L280.53,96.15 L282,96.16 L283.42,96.16 L284.8,96.17 L286.13,96.17 L287.41,96.17 L288.64,96.18 L289.82,96.18 L290.94,96.18 L292,96.19 L293,96.19 L293.93,96.19 L294.8,96.2 L295.6,96.2" fill="none" stroke="#4c7cc8" stroke-width="1.05" stroke-linejoin="round" stroke-linecap="round" />
<path d="M376.8,91.1 L419,90.9 L476,89.9 L545,90.6 L633.6,87.9" fill="none" stroke="#e8c05a" stroke-width="1.05" stroke-linejoin="round" stroke-linecap="round" />
<path d="M376.8,92.4 L633.6,92.3" fill="none" stroke="#e8c05a" stroke-width="1.05" stroke-linejoin="round" stroke-linecap="round" />
<path d="M376.8,93.6 L500,93.7 L633.6,94.2" fill="none" stroke="#e8c05a" stroke-width="1.05" stroke-linejoin="round" stroke-linecap="round" />
<path d="M376.8,95 L420,95 L500,94.6 L633.6,94.4" fill="none" stroke="#e8c05a" stroke-width="1.05" stroke-linejoin="round" stroke-linecap="round" />
<path d="M376.8,28 L377.66,28.15 L378.68,28.34 L379.85,28.55 L381.14,28.78 L382.55,29.03 L384.06,29.3 L385.65,29.59 L387.32,29.88 L389.04,30.19 L390.81,30.51 L392.62,30.83 L394.43,31.16 L396.25,31.48 L398.06,31.8 L399.85,32.11 L401.59,32.42 L403.28,32.72 L404.9,33 L406.38,33.26 L407.84,33.51 L409.28,33.76 L410.7,34 L412.11,34.24 L413.51,34.48 L414.92,34.71 L416.33,34.95 L417.75,35.19 L419.19,35.43 L420.65,35.68 L422.14,35.93 L423.66,36.19 L425.22,36.45 L426.83,36.72 L428.48,37 L430.19,37.29 L431.96,37.59 L433.8,37.9 L435.1,38.12 L436.45,38.35 L437.85,38.6 L439.3,38.85 L440.79,39.11 L442.31,39.37 L443.87,39.65 L445.45,39.92 L447.06,40.21 L448.68,40.49 L450.32,40.78 L451.97,41.07 L453.62,41.36 L455.28,41.64 L456.93,41.93 L458.57,42.22 L460.2,42.5 L461.81,42.77 L463.4,43.05 L464.96,43.31 L466.5,43.57 L467.99,43.82 L469.45,44.06 L470.87,44.29 L472.23,44.51 L473.55,44.72 L474.81,44.92 L476,45.1 L478.06,45.41 L479.91,45.67 L481.59,45.91 L483.12,46.12 L484.54,46.3 L485.87,46.46 L487.14,46.6 L488.39,46.73 L489.64,46.86 L490.93,46.98 L492.28,47.11 L493.72,47.23 L495.28,47.37 L497,47.53 L498.9,47.7 L500.17,47.82 L501.49,47.93 L502.84,48.05 L504.23,48.17 L505.65,48.3 L507.11,48.42 L508.59,48.54 L510.11,48.67 L511.65,48.8 L513.2,48.92 L514.78,49.05 L516.38,49.18 L517.99,49.3 L519.62,49.43 L521.25,49.55 L522.89,49.67 L524.54,49.8 L526.19,49.92 L527.84,50.04 L529.48,50.15 L531.13,50.27 L532.76,50.38 L534.39,50.49 L536,50.6 L537.49,50.7 L539,50.79 L540.52,50.89 L542.05,50.99 L543.6,51.08 L545.16,51.18 L546.72,51.27 L548.29,51.36 L549.87,51.45 L551.45,51.54 L553.03,51.63 L554.61,51.72 L556.19,51.81 L557.77,51.89 L559.35,51.98 L560.92,52.06 L562.48,52.14 L564.04,52.22 L565.59,52.3 L567.12,52.37 L568.64,52.45 L570.15,52.52 L571.64,52.6 L573.11,52.67 L574.57,52.73 L576,52.8 L577.68,52.88 L579.36,52.95 L581.02,53.02 L582.69,53.09 L584.34,53.15 L585.99,53.22 L587.62,53.28 L589.24,53.34 L590.85,53.4 L592.45,53.45 L594.02,53.51 L595.59,53.56 L597.13,53.61 L598.65,53.66 L600.16,53.7 L601.64,53.75 L603.1,53.79 L604.53,53.84 L605.94,53.88 L607.32,53.92 L608.68,53.96 L610,54 L611.92,54.05 L613.85,54.11 L615.76,54.15 L617.65,54.2 L619.51,54.24 L621.32,54.27 L623.07,54.31 L624.76,54.34 L626.36,54.37 L627.87,54.4 L629.27,54.42 L630.56,54.44 L631.72,54.46 L632.73,54.48 L633.6,54.5" fill="none" stroke="#4c7cc8" stroke-width="1.05" stroke-linejoin="round" stroke-linecap="round" />
<path d="M376.8,44.4 L377.67,44.49 L378.73,44.6 L379.97,44.72 L381.36,44.87 L382.88,45.02 L384.49,45.18 L386.18,45.36 L387.92,45.53 L389.68,45.72 L391.45,45.9 L393.19,46.08 L394.88,46.26 L396.49,46.43 L398,46.6 L399.55,46.78 L401.08,46.96 L402.6,47.14 L404.09,47.32 L405.58,47.51 L407.06,47.69 L408.53,47.88 L410,48.06 L411.48,48.24 L412.97,48.41 L414.46,48.58 L415.97,48.75 L417.5,48.9 L419.01,49.05 L420.48,49.18 L421.93,49.31 L423.36,49.44 L424.79,49.56 L426.24,49.68 L427.71,49.79 L429.23,49.91 L430.81,50.02 L432.46,50.14 L434.2,50.26 L436.04,50.38 L438,50.5 L439.29,50.58 L440.65,50.66 L442.07,50.75 L443.55,50.83 L445.08,50.92 L446.65,51.01 L448.26,51.1 L449.89,51.19 L451.54,51.27 L453.2,51.36 L454.86,51.45 L456.52,51.54 L458.17,51.62 L459.8,51.7 L461.4,51.78 L462.96,51.86 L464.48,51.94 L465.96,52.01 L467.37,52.08 L468.72,52.14 L470,52.2 L471.88,52.29 L473.56,52.36 L475.07,52.42 L476.46,52.48 L477.76,52.52 L479.01,52.57 L480.27,52.61 L481.56,52.65 L482.93,52.69 L484.42,52.73 L486.06,52.78 L487.91,52.84 L490,52.9 L491.17,52.94 L492.38,52.97 L493.62,53.01 L494.89,53.05 L496.19,53.1 L497.52,53.14 L498.89,53.18 L500.28,53.23 L501.7,53.27 L503.15,53.32 L504.62,53.36 L506.13,53.41 L507.66,53.45 L509.21,53.5 L510.79,53.55 L512.39,53.59 L514.02,53.64 L515.67,53.69 L517.34,53.73 L519.03,53.78 L520.75,53.83 L522.48,53.87 L524.24,53.91 L526.01,53.96 L527.8,54 L529.14,54.03 L530.49,54.06 L531.87,54.09 L533.27,54.12 L534.69,54.15 L536.13,54.18 L537.59,54.21 L539.06,54.24 L540.55,54.27 L542.06,54.3 L543.57,54.33 L545.1,54.36 L546.65,54.39 L548.2,54.42 L549.76,54.45 L551.33,54.48 L552.91,54.51 L554.5,54.54 L556.09,54.56 L557.69,54.59 L559.29,54.62 L560.89,54.65 L562.5,54.68 L564.1,54.71 L565.71,54.74 L567.32,54.77 L568.92,54.8 L570.52,54.82 L572.12,54.85 L573.71,54.88 L575.29,54.91 L576.87,54.94 L578.44,54.97 L580,55 L581.53,55.03 L583.11,55.06 L584.72,55.09 L586.37,55.12 L588.05,55.15 L589.76,55.18 L591.49,55.22 L593.24,55.25 L595,55.28 L596.77,55.31 L598.56,55.35 L600.34,55.38 L602.13,55.41 L603.91,55.45 L605.69,55.48 L607.45,55.51 L609.2,55.55 L610.92,55.58 L612.63,55.61 L614.31,55.64 L615.95,55.67 L617.56,55.7 L619.14,55.73 L620.67,55.76 L622.15,55.79 L623.59,55.81 L624.97,55.84 L626.29,55.86 L627.55,55.89 L628.74,55.91 L629.87,55.93 L630.92,55.95 L631.9,55.97 L632.79,55.98 L633.6,56" fill="none" stroke="#4c7cc8" stroke-width="1.05" stroke-linejoin="round" stroke-linecap="round" />
<path d="M376.8,60.6 L398.7,60.6 L398.7,60.6 L399.66,58.09 L401.9,57.65 L402.86,55.14 L405.1,54.7 L408.4,54.4 L424,54.4 L438,53.46 L441.2,53.71 L444.4,53.52 L447.6,53.7 L450.8,53.69 L454,53.16 L457.2,53.08 L460.4,53.79 L463.6,53.24 L466.8,53.19 L470,53.85 L473.33,53.34 L476.67,53.64 L480,53.28 L483.33,53.39 L486.67,52.92 L490,53.32 L493.08,53.61 L496.15,53.37 L499.23,53.65 L502.31,53.66 L505.38,53.19 L508.46,53.89 L511.54,53.82 L514.62,53.64 L517.69,53.47 L520.77,54.3 L523.85,54.02 L526.92,54.32 L530,54.54 L533.12,54.43 L536.25,54.65 L539.38,54.22 L542.5,54.62 L545.62,54.34 L548.75,54.82 L551.88,54.8 L555,54.14 L558.12,54.21 L561.25,54.32 L564.38,55.03 L567.5,54.59 L570.62,54.8 L573.75,54.55 L576.88,54.77 L580,54.7 L583.15,54.71 L586.31,54.97 L589.46,55.02 L592.61,55.35 L595.76,55.2 L598.92,55.47 L602.07,55.45 L605.22,55.62 L608.38,55.38 L611.53,54.97 L614.68,55.64 L617.84,55.78 L620.99,55.78 L624.14,55.52 L627.29,55.7 L630.45,55.29 L633.6,55.6" fill="none" stroke="#4c7cc8" stroke-width="1.05" stroke-linejoin="round" stroke-linecap="round" />
<path d="M376.8,69.2 L386.8,71.4 L393.3,69.4 L393.3,69.4 L394.21,67.43 L396.34,67.08 L397.25,65.11 L399.38,64.76 L400.29,62.79 L402.42,62.44 L403.33,60.47 L405.46,60.12 L406.37,58.15 L408.5,57.8 L417.5,57.2 L433.7,56.3 L438,55.8 L441.2,55.6 L444.4,55.37 L447.6,55.2 L450.8,55.94 L454,56.09 L457.2,55.31 L460.4,55.98 L463.6,55.66 L466.8,55.46 L470,55.61 L473.33,56.08 L476.67,56.2 L480,55.49 L483.33,56.04 L486.67,55.56 L490,56.2 L493.06,55.89 L496.11,56.43 L499.17,56.57 L502.22,56.18 L505.28,56.67 L508.33,56.1 L511.39,55.93 L514.44,56.45 L517.5,55.98 L520.56,56.17 L523.61,56.41 L526.67,56.63 L529.72,56.27 L532.78,56.21 L535.83,57 L538.89,56.54 L541.94,57.17 L545,57.16 L548.06,56.68 L551.11,56.75 L554.17,56.8 L557.22,56.9 L560.28,56.85 L563.33,56.81 L566.39,56.86 L569.44,57.14 L572.5,56.74 L575.55,56.67 L578.61,56.92 L581.66,56.48 L584.72,56.53 L587.77,57.13 L590.83,56.72 L593.88,56.73 L596.94,56.24 L599.99,56.6 L603.05,56.74 L606.1,56.23 L609.16,56.76 L612.21,56.77 L615.27,56.25 L618.32,56.75 L621.38,56.6 L624.43,56.78 L627.49,56.48 L630.54,56.79 L633.6,56.6" fill="none" stroke="#4c7cc8" stroke-width="1.05" stroke-linejoin="round" stroke-linecap="round" />
<path d="M376.8,76.8 L377.96,75.45 L380.67,75.22 L381.83,73.87 L384.53,73.63 L385.69,72.29 L388.4,72.05 L389.56,70.7 L392.27,70.47 L393.43,69.12 L396.13,68.88 L397.29,67.54 L400,67.3 L400,67.3 L401.08,64.54 L403.6,64.05 L404.68,61.29 L407.2,60.8 L414.4,58.7 L428.9,57.9 L440,58.51 L443.08,57.89 L446.15,57.94 L449.23,58.5 L452.31,58.78 L455.38,58.15 L458.46,58.35 L461.54,58.49 L464.62,58.26 L467.69,58.32 L470.77,58.29 L473.85,58.35 L476.92,58.57 L480,58.32 L483.1,58.38 L486.19,58.72 L489.29,58.03 L492.38,58.51 L495.48,58.64 L498.57,58.24 L501.67,58.15 L504.76,58.66 L507.86,58.14 L510.95,58.08 L514.05,58.28 L517.14,58.51 L520.24,57.96 L523.33,58.14 L526.43,58.14 L529.52,58.57 L532.62,58.2 L535.71,58.56 L538.81,57.93 L541.9,58.07 L545,58.34 L548,58.5 L551,58.06 L554,57.81 L557,57.67 L560,57.99 L563,57.64 L566,58.15 L569,58.13 L572,57.5 L575,57.53 L578,57.96 L581,57.77 L584,57.87 L587,57.41 L590,57.17 L593.11,57.29 L596.23,57.72 L599.34,57.23 L602.46,57.28 L605.57,57.32 L608.69,57.3 L611.8,57.27 L614.91,57.71 L618.03,57 L621.14,56.84 L624.26,57.66 L627.37,57.58 L630.49,57.66 L633.6,57.2" fill="none" stroke="#4c7cc8" stroke-width="1.05" stroke-linejoin="round" stroke-linecap="round" />
<path d="M376.8,85.5 L389,82.2 L400,79.6 L408.7,79.6 L413,77.4 L417.3,76 L417.3,76 L417.95,73.53 L419.47,73.1 L420.12,70.64 L421.63,70.2 L422.28,67.73 L423.8,67.3 L423.8,67.3 L424.6,64.64 L426.47,64.17 L427.27,61.5 L429.13,61.03 L429.93,58.37 L431.8,57.9 L434.7,56.5 L437.5,55 L441,54.64 L444.22,55.16 L447.44,55.2 L450.67,54.62 L453.89,55.14 L457.11,55.28 L460.33,55.18 L463.56,55.11 L466.78,54.95 L470,55.06 L473.12,54.98 L476.25,54.86 L479.38,55.35 L482.5,55.11 L485.62,55.6 L488.75,54.94 L491.88,55.74 L495,55.57 L498.12,55.81 L501.25,55.81 L504.38,55.83 L507.5,55.57 L510.62,55.09 L513.75,55.77 L516.88,55.28 L520,55.42 L523,55.68 L526,55.49 L529,55.33 L532,55.74 L535,55.38 L538,55.07 L541,54.92 L544,55.41 L547,54.99 L550,55.2 L553,54.75 L556,54.55 L559,54.79 L562,54.98 L565,54.33 L568,54.82 L571,54.87 L574,54.71 L577,54.66 L580,53.86 L583.15,54.43 L586.31,54.66 L589.46,53.95 L592.61,54.16 L595.76,54.18 L598.92,54.43 L602.07,54.35 L605.22,54.42 L608.38,54.71 L611.53,54.03 L614.68,54.09 L617.84,54.18 L620.99,54.19 L624.14,54.16 L627.29,54.99 L630.45,54.9 L633.6,54.6" fill="none" stroke="#4c7cc8" stroke-width="1.05" stroke-linejoin="round" stroke-linecap="round" />
<line x1="376.8" y1="55.6" x2="633.6" y2="55.6" stroke="#1e1e1e" stroke-width="1.25" stroke-dasharray="6.2,4"/>
<circle cx="67.78" cy="227.9" r="1.35" fill="#000"/>
<circle cx="72.53" cy="226.9" r="1.35" fill="#000"/>
<circle cx="77.28" cy="226.1" r="1.35" fill="#000"/>
<circle cx="82.02" cy="223.8" r="1.35" fill="#000"/>
<circle cx="86.77" cy="221.9" r="1.35" fill="#000"/>
<circle cx="91.52" cy="220.6" r="1.35" fill="#000"/>
<circle cx="96.26" cy="219.3" r="1.35" fill="#000"/>
<circle cx="101.01" cy="216.9" r="1.35" fill="#000"/>
<circle cx="105.76" cy="215.8" r="1.35" fill="#000"/>
<circle cx="110.5" cy="214.1" r="1.35" fill="#000"/>
<circle cx="115.25" cy="212.9" r="1.35" fill="#000"/>
<circle cx="120" cy="211.3" r="1.35" fill="#000"/>
<circle cx="124.75" cy="209.6" r="1.35" fill="#000"/>
<circle cx="129.49" cy="208" r="1.35" fill="#000"/>
<circle cx="134.24" cy="206.1" r="1.35" fill="#000"/>
<circle cx="138.99" cy="204.1" r="1.35" fill="#000"/>
<circle cx="143.73" cy="204.1" r="1.35" fill="#000"/>
<circle cx="148.48" cy="201.6" r="1.35" fill="#000"/>
<circle cx="153.23" cy="200" r="1.35" fill="#000"/>
<circle cx="157.97" cy="197.9" r="1.35" fill="#000"/>
<circle cx="162.72" cy="198.8" r="1.35" fill="#000"/>
<circle cx="167.47" cy="195.4" r="1.35" fill="#000"/>
<circle cx="172.22" cy="191.3" r="1.35" fill="#000"/>
<circle cx="176.96" cy="189.1" r="1.35" fill="#000"/>
<circle cx="181.71" cy="190.3" r="1.35" fill="#000"/>
<circle cx="186.46" cy="187.1" r="1.35" fill="#000"/>
<circle cx="191.2" cy="184.6" r="1.35" fill="#000"/>
<circle cx="195.95" cy="182.8" r="1.35" fill="#000"/>
<circle cx="200.7" cy="180.8" r="1.35" fill="#000"/>
<circle cx="205.44" cy="177.8" r="1.35" fill="#000"/>
<circle cx="210.19" cy="176.1" r="1.35" fill="#000"/>
<circle cx="214.94" cy="174.1" r="1.35" fill="#000"/>
<circle cx="219.69" cy="171.3" r="1.35" fill="#000"/>
<circle cx="224.43" cy="171.3" r="1.35" fill="#000"/>
<circle cx="229.18" cy="168" r="1.35" fill="#000"/>
<circle cx="233.93" cy="165.5" r="1.35" fill="#000"/>
<circle cx="238.67" cy="161.6" r="1.35" fill="#000"/>
<circle cx="243.42" cy="162" r="1.35" fill="#000"/>
<circle cx="248.17" cy="157.5" r="1.35" fill="#000"/>
<circle cx="252.92" cy="157" r="1.35" fill="#000"/>
<circle cx="44.05" cy="235.7" r="2.4" fill="#413e9c" stroke="#4a4a4a" stroke-width="0.45"/>
<circle cx="48.79" cy="234.4" r="2.4" fill="#464ba8" stroke="#4a4a4a" stroke-width="0.45"/>
<circle cx="53.54" cy="232.6" r="2.4" fill="#474eaa" stroke="#4a4a4a" stroke-width="0.45"/>
<circle cx="58.29" cy="230.6" r="2.4" fill="#4850ad" stroke="#4a4a4a" stroke-width="0.45"/>
<circle cx="63.03" cy="229.4" r="2.4" fill="#4b5ab6" stroke="#4a4a4a" stroke-width="0.45"/>
<circle cx="67.78" cy="230.9" r="2.4" fill="#5077cc" stroke="#4a4a4a" stroke-width="0.45"/>
<circle cx="72.53" cy="229.9" r="2.4" fill="#517ccf" stroke="#4a4a4a" stroke-width="0.45"/>
<circle cx="77.28" cy="228.8" r="2.4" fill="#5281d2" stroke="#4a4a4a" stroke-width="0.45"/>
<circle cx="82.02" cy="227.9" r="2.4" fill="#549ad6" stroke="#4a4a4a" stroke-width="0.45"/>
<circle cx="86.77" cy="227.1" r="2.4" fill="#559dd7" stroke="#4a4a4a" stroke-width="0.45"/>
<circle cx="91.52" cy="227.1" r="2.4" fill="#55a0d7" stroke="#4a4a4a" stroke-width="0.45"/>
<circle cx="96.26" cy="227.4" r="2.4" fill="#54a2d4" stroke="#4a4a4a" stroke-width="0.45"/>
<circle cx="101.01" cy="226.6" r="2.4" fill="#50aac4" stroke="#4a4a4a" stroke-width="0.45"/>
<circle cx="105.76" cy="225.2" r="2.4" fill="#52b2ae" stroke="#4a4a4a" stroke-width="0.45"/>
<circle cx="110.5" cy="222.4" r="2.4" fill="#55b3a7" stroke="#4a4a4a" stroke-width="0.45"/>
<circle cx="115.25" cy="223.2" r="2.4" fill="#57b49f" stroke="#4a4a4a" stroke-width="0.45"/>
<circle cx="120" cy="222.6" r="2.4" fill="#6cb980" stroke="#4a4a4a" stroke-width="0.45"/>
<circle cx="124.75" cy="221.2" r="2.4" fill="#6eb97c" stroke="#4a4a4a" stroke-width="0.45"/>
<circle cx="129.49" cy="220.2" r="2.4" fill="#71b979" stroke="#4a4a4a" stroke-width="0.45"/>
<circle cx="134.24" cy="221.2" r="2.4" fill="#74ba76" stroke="#4a4a4a" stroke-width="0.45"/>
<circle cx="138.99" cy="219.4" r="2.4" fill="#76ba72" stroke="#4a4a4a" stroke-width="0.45"/>
<circle cx="143.73" cy="219.4" r="2.4" fill="#79bb6f" stroke="#4a4a4a" stroke-width="0.45"/>
<circle cx="148.48" cy="218.3" r="2.4" fill="#98be53" stroke="#4a4a4a" stroke-width="0.45"/>
<circle cx="153.23" cy="216.6" r="2.4" fill="#9abe51" stroke="#4a4a4a" stroke-width="0.45"/>
<circle cx="157.97" cy="217.4" r="2.4" fill="#9dbe50" stroke="#4a4a4a" stroke-width="0.45"/>
<circle cx="162.72" cy="215.2" r="2.4" fill="#9fbe4e" stroke="#4a4a4a" stroke-width="0.45"/>
<circle cx="167.47" cy="216.2" r="2.4" fill="#a1be4c" stroke="#4a4a4a" stroke-width="0.45"/>
<circle cx="172.22" cy="217.9" r="2.4" fill="#a4be4a" stroke="#4a4a4a" stroke-width="0.45"/>
<circle cx="176.96" cy="216.2" r="2.4" fill="#a6bf48" stroke="#4a4a4a" stroke-width="0.45"/>
<circle cx="181.71" cy="217.4" r="2.4" fill="#a8bf47" stroke="#4a4a4a" stroke-width="0.45"/>
<circle cx="186.46" cy="212.4" r="2.4" fill="#e1b441" stroke="#4a4a4a" stroke-width="0.45"/>
<circle cx="191.2" cy="214.9" r="2.4" fill="#b9c03a" stroke="#4a4a4a" stroke-width="0.45"/>
<circle cx="195.95" cy="216.2" r="2.4" fill="#b9c03a" stroke="#4a4a4a" stroke-width="0.45"/>
<circle cx="200.7" cy="213.2" r="2.4" fill="#e1b441" stroke="#4a4a4a" stroke-width="0.45"/>
<circle cx="205.44" cy="210.7" r="2.4" fill="#e1b441" stroke="#4a4a4a" stroke-width="0.45"/>
<circle cx="210.19" cy="214" r="2.4" fill="#b9c03a" stroke="#4a4a4a" stroke-width="0.45"/>
<circle cx="214.94" cy="212.1" r="2.4" fill="#e1b441" stroke="#4a4a4a" stroke-width="0.45"/>
<circle cx="219.69" cy="213.5" r="2.4" fill="#b9c03a" stroke="#4a4a4a" stroke-width="0.45"/>
<circle cx="224.43" cy="212.6" r="2.4" fill="#e1b441" stroke="#4a4a4a" stroke-width="0.45"/>
<circle cx="229.18" cy="212.3" r="2.4" fill="#e1b441" stroke="#4a4a4a" stroke-width="0.45"/>
<circle cx="233.93" cy="213.5" r="2.4" fill="#b9c03a" stroke="#4a4a4a" stroke-width="0.45"/>
<circle cx="238.67" cy="210.1" r="2.4" fill="#e1b441" stroke="#4a4a4a" stroke-width="0.45"/>
<circle cx="243.42" cy="213.1" r="2.4" fill="#e1b441" stroke="#4a4a4a" stroke-width="0.45"/>
<circle cx="248.17" cy="211" r="2.4" fill="#b9c03a" stroke="#4a4a4a" stroke-width="0.45"/>
<circle cx="252.92" cy="230.9" r="2.4" fill="#eccd3a" stroke="#4a4a4a" stroke-width="0.45"/>
<circle cx="257.66" cy="212.1" r="2.4" fill="#e1b441" stroke="#4a4a4a" stroke-width="0.45"/>
<circle cx="262.41" cy="209.6" r="2.4" fill="#e1b441" stroke="#4a4a4a" stroke-width="0.45"/>
<line x1="376.8" y1="174.2" x2="604.6" y2="174.2" stroke="#151515" stroke-width="1.35" stroke-dasharray="6.2,4"/>
<circle cx="381.55" cy="234" r="2.4" fill="#413e9c" stroke="#4a4a4a" stroke-width="0.45"/>
<circle cx="386.29" cy="230.5" r="2.4" fill="#42409e" stroke="#4a4a4a" stroke-width="0.45"/>
<circle cx="391.04" cy="225.9" r="2.4" fill="#42429f" stroke="#4a4a4a" stroke-width="0.45"/>
<circle cx="395.79" cy="227.8" r="2.4" fill="#4343a1" stroke="#4a4a4a" stroke-width="0.45"/>
<circle cx="400.54" cy="220.4" r="2.4" fill="#4344a2" stroke="#4a4a4a" stroke-width="0.45"/>
<circle cx="405.28" cy="218" r="2.4" fill="#4446a3" stroke="#4a4a4a" stroke-width="0.45"/>
<circle cx="410.03" cy="216.2" r="2.4" fill="#4548a5" stroke="#4a4a4a" stroke-width="0.45"/>
<circle cx="414.78" cy="201.4" r="2.4" fill="#517ed0" stroke="#4a4a4a" stroke-width="0.45"/>
<circle cx="429.02" cy="182" r="2.4" fill="#f2e430" stroke="#4a4a4a" stroke-width="0.45"/>
<circle cx="433.76" cy="175.6" r="2.4" fill="#f2e430" stroke="#4a4a4a" stroke-width="0.45"/>
<circle cx="438.51" cy="172.5" r="2.4" fill="#f2e430" stroke="#4a4a4a" stroke-width="0.45"/>
<circle cx="443.26" cy="173.8" r="2.4" fill="#f2e430" stroke="#4a4a4a" stroke-width="0.45"/>
<circle cx="448" cy="176.3" r="2.4" fill="#f2e430" stroke="#4a4a4a" stroke-width="0.45"/>
<circle cx="452.75" cy="172.7" r="2.4" fill="#f2e430" stroke="#4a4a4a" stroke-width="0.45"/>
<circle cx="457.5" cy="177.4" r="2.4" fill="#f2e430" stroke="#4a4a4a" stroke-width="0.45"/>
<circle cx="462.25" cy="174.9" r="2.4" fill="#f2e430" stroke="#4a4a4a" stroke-width="0.45"/>
<circle cx="466.99" cy="174.9" r="2.4" fill="#f2e430" stroke="#4a4a4a" stroke-width="0.45"/>
<circle cx="471.74" cy="172.3" r="2.4" fill="#f2e430" stroke="#4a4a4a" stroke-width="0.45"/>
<circle cx="476.49" cy="172.7" r="2.4" fill="#f2e430" stroke="#4a4a4a" stroke-width="0.45"/>
<circle cx="481.23" cy="168.4" r="2.4" fill="#f2e430" stroke="#4a4a4a" stroke-width="0.45"/>
<circle cx="485.98" cy="172.4" r="2.4" fill="#f2e430" stroke="#4a4a4a" stroke-width="0.45"/>
<circle cx="490.73" cy="178.1" r="2.4" fill="#f2e430" stroke="#4a4a4a" stroke-width="0.45"/>
<circle cx="495.48" cy="168.7" r="2.4" fill="#f2e430" stroke="#4a4a4a" stroke-width="0.45"/>
<circle cx="500.22" cy="172" r="2.4" fill="#f2e430" stroke="#4a4a4a" stroke-width="0.45"/>
<circle cx="504.97" cy="172.6" r="2.4" fill="#f2e430" stroke="#4a4a4a" stroke-width="0.45"/>
<circle cx="509.72" cy="170.1" r="2.4" fill="#f2e430" stroke="#4a4a4a" stroke-width="0.45"/>
<circle cx="514.46" cy="170.9" r="2.4" fill="#f2e430" stroke="#4a4a4a" stroke-width="0.45"/>
<circle cx="519.21" cy="174" r="2.4" fill="#f2e430" stroke="#4a4a4a" stroke-width="0.45"/>
<circle cx="523.96" cy="175.2" r="2.4" fill="#f2e430" stroke="#4a4a4a" stroke-width="0.45"/>
<circle cx="528.7" cy="172" r="2.4" fill="#f2e430" stroke="#4a4a4a" stroke-width="0.45"/>
<circle cx="533.45" cy="176.9" r="2.4" fill="#f2e430" stroke="#4a4a4a" stroke-width="0.45"/>
<circle cx="538.2" cy="167.3" r="2.4" fill="#f2e430" stroke="#4a4a4a" stroke-width="0.45"/>
<circle cx="542.94" cy="169.4" r="2.4" fill="#f2e430" stroke="#4a4a4a" stroke-width="0.45"/>
<circle cx="547.69" cy="172.6" r="2.4" fill="#f2e430" stroke="#4a4a4a" stroke-width="0.45"/>
<circle cx="552.44" cy="174.2" r="2.4" fill="#f2e430" stroke="#4a4a4a" stroke-width="0.45"/>
<circle cx="557.19" cy="177.1" r="2.4" fill="#f2e430" stroke="#4a4a4a" stroke-width="0.45"/>
<circle cx="561.93" cy="178.1" r="2.4" fill="#f2e430" stroke="#4a4a4a" stroke-width="0.45"/>
<circle cx="566.68" cy="173.3" r="2.4" fill="#f2e430" stroke="#4a4a4a" stroke-width="0.45"/>
<circle cx="571.43" cy="178.5" r="2.4" fill="#f2e430" stroke="#4a4a4a" stroke-width="0.45"/>
<circle cx="576.17" cy="176.4" r="2.4" fill="#f2e430" stroke="#4a4a4a" stroke-width="0.45"/>
<circle cx="580.92" cy="184.6" r="2.4" fill="#f2e430" stroke="#4a4a4a" stroke-width="0.45"/>
<circle cx="585.67" cy="172.3" r="2.4" fill="#f2e430" stroke="#4a4a4a" stroke-width="0.45"/>
<circle cx="590.41" cy="179.3" r="2.4" fill="#f2e430" stroke="#4a4a4a" stroke-width="0.45"/>
<circle cx="595.16" cy="164.7" r="2.4" fill="#eccd3a" stroke="#4a4a4a" stroke-width="0.45"/>
<circle cx="599.91" cy="181.4" r="2.4" fill="#f2e430" stroke="#4a4a4a" stroke-width="0.45"/>
<defs><linearGradient id="cbc" x1="0" y1="0" x2="0" y2="1"><stop offset="0.000" stop-color="#f2e430"/><stop offset="0.050" stop-color="#eed737"/><stop offset="0.100" stop-color="#eabe3e"/><stop offset="0.150" stop-color="#ddb540"/><stop offset="0.200" stop-color="#c6bc3c"/><stop offset="0.250" stop-color="#aebf42"/><stop offset="0.300" stop-color="#92bd57"/><stop offset="0.350" stop-color="#79bb6f"/><stop offset="0.400" stop-color="#63b78b"/><stop offset="0.450" stop-color="#56b3a4"/><stop offset="0.500" stop-color="#4eafbc"/><stop offset="0.550" stop-color="#52a8ca"/><stop offset="0.600" stop-color="#55a0d7"/><stop offset="0.650" stop-color="#5492d6"/><stop offset="0.700" stop-color="#5284d4"/><stop offset="0.750" stop-color="#5074ca"/><stop offset="0.800" stop-color="#4e64c0"/><stop offset="0.850" stop-color="#4a58b4"/><stop offset="0.900" stop-color="#464ba8"/><stop offset="0.950" stop-color="#413f9c"/><stop offset="1.000" stop-color="#3c3291"/></linearGradient></defs>
<rect x="273.1" y="156.5" width="10.6" height="89.8" fill="url(#cbc)" stroke="#8a8a8a" stroke-width="0.8"/>
<line x1="283.7" y1="246.3" x2="281.7" y2="246.3" stroke="#666" stroke-width="0.8"/>
<text x="287.2" y="250.3" font-size="11.5" text-anchor="start" style="" >0</text>
<line x1="283.7" y1="209.65" x2="281.7" y2="209.65" stroke="#666" stroke-width="0.8"/>
<text x="287.2" y="213.65" font-size="11.5" text-anchor="start" style="" >10</text>
<line x1="283.7" y1="172.99" x2="281.7" y2="172.99" stroke="#666" stroke-width="0.8"/>
<text x="287.2" y="176.99" font-size="11.5" text-anchor="start" style="" >20</text>
<defs><linearGradient id="cbd" x1="0" y1="0" x2="0" y2="1"><stop offset="0.000" stop-color="#f2e430"/><stop offset="0.050" stop-color="#eed737"/><stop offset="0.100" stop-color="#eabe3e"/><stop offset="0.150" stop-color="#ddb540"/><stop offset="0.200" stop-color="#c6bc3c"/><stop offset="0.250" stop-color="#aebf42"/><stop offset="0.300" stop-color="#92bd57"/><stop offset="0.350" stop-color="#79bb6f"/><stop offset="0.400" stop-color="#63b78b"/><stop offset="0.450" stop-color="#56b3a4"/><stop offset="0.500" stop-color="#4eafbc"/><stop offset="0.550" stop-color="#52a8ca"/><stop offset="0.600" stop-color="#55a0d7"/><stop offset="0.650" stop-color="#5492d6"/><stop offset="0.700" stop-color="#5284d4"/><stop offset="0.750" stop-color="#5074ca"/><stop offset="0.800" stop-color="#4e64c0"/><stop offset="0.850" stop-color="#4a58b4"/><stop offset="0.900" stop-color="#464ba8"/><stop offset="0.950" stop-color="#413f9c"/><stop offset="1.000" stop-color="#3c3291"/></linearGradient></defs>
<rect x="611.1" y="156.5" width="10.5" height="89.8" fill="url(#cbd)" stroke="#8a8a8a" stroke-width="0.8"/>
<line x1="621.6" y1="246.3" x2="619.6" y2="246.3" stroke="#666" stroke-width="0.8"/>
<text x="625.1" y="250.3" font-size="11.5" text-anchor="start" style="" >0</text>
<line x1="621.6" y1="220.64" x2="619.6" y2="220.64" stroke="#666" stroke-width="0.8"/>
<text x="625.1" y="224.64" font-size="11.5" text-anchor="start" style="" >10</text>
<line x1="621.6" y1="194.99" x2="619.6" y2="194.99" stroke="#666" stroke-width="0.8"/>
<text x="625.1" y="198.99" font-size="11.5" text-anchor="start" style="" >20</text>
<line x1="621.6" y1="169.33" x2="619.6" y2="169.33" stroke="#666" stroke-width="0.8"/>
<text x="625.1" y="173.33" font-size="11.5" text-anchor="start" style="" >30</text>
<text x="166.5" y="10.4" font-size="14.5" text-anchor="middle" style="stroke:#1a1a1a;stroke-width:0.22" textLength="41.6" lengthAdjust="spacingAndGlyphs"><tspan style="font-style:italic">δu</tspan> = 0</text>
<text x="503.5" y="10.4" font-size="14.5" text-anchor="middle" style="stroke:#1a1a1a;stroke-width:0.22" textLength="60" lengthAdjust="spacingAndGlyphs"><tspan style="font-style:italic">δu</tspan> = 0.01</text>
<text x="0" y="0" font-size="14" text-anchor="middle" style="font-style:italic" transform="translate(17.5,64.9) rotate(-90)">S</text>
<text x="0" y="0" font-size="14" text-anchor="middle" style="font-style:italic" transform="translate(356.0,64.9) rotate(-90)">S</text>
<text x="0" y="0" font-size="12.5" text-anchor="middle" style="fill:#333" transform="translate(6.5,200.6) rotate(-90)"><tspan style="font-style:italic">γ</tspan><tspan font-size="10" dy="1.8">max</tspan></text>
<text x="0" y="0" font-size="12.5" text-anchor="middle" style="fill:#333" transform="translate(344.0,200.6) rotate(-90)"><tspan style="font-style:italic">γ</tspan><tspan font-size="10" dy="1.8">max</tspan></text>
<text x="154.3" y="277.8" font-size="10" text-anchor="start" style="fill:#333">0</text>
<text x="491.9" y="277.8" font-size="10" text-anchor="start" style="fill:#333">0</text>
<text x="306.6" y="205.6" font-size="15" text-anchor="middle" style="font-style:italic" >S</text>
<text x="644.6" y="205" font-size="15" text-anchor="middle" style="font-style:italic" >S</text>
<text x="279.8" y="36.6" font-size="15.5" text-anchor="middle" style="stroke:#1a1a1a;stroke-width:0.2" >(a)</text>
<text x="618" y="36.6" font-size="15.5" text-anchor="middle" style="stroke:#1a1a1a;stroke-width:0.2" >(b)</text>
<text x="53.5" y="173.6" font-size="15.5" text-anchor="middle" style="stroke:#1a1a1a;stroke-width:0.2" >(c)</text>
<text x="591" y="239.6" font-size="15.5" text-anchor="middle" style="stroke:#1a1a1a;stroke-width:0.2" >(d)</text>
<text x="169.54" y="238.1" font-size="13.58" style="font-style:italic;stroke:#111;stroke-width:0.15" textLength="21.46" lengthAdjust="spacingAndGlyphs">t/T</text>
<text x="196.48" y="238.8" font-size="13.74" style="stroke:#111;stroke-width:0.15" textLength="10.52" lengthAdjust="spacingAndGlyphs">≥</text>
<text x="211.27" y="237.92" font-size="14.52" style="stroke:#111;stroke-width:0.15" textLength="32.75" lengthAdjust="spacingAndGlyphs">1800</text>
<text x="422.3" y="232.52" font-size="14.37" style="stroke:#111;stroke-width:0.15" textLength="31.9" lengthAdjust="spacingAndGlyphs">2000</text>
<text x="458.31" y="233.4" font-size="16.0" style="stroke:#111;stroke-width:0.15" textLength="10.18" lengthAdjust="spacingAndGlyphs">≥</text>
<text x="472.86" y="232.7" font-size="14.04" style="font-style:italic;stroke:#111;stroke-width:0.15" textLength="20.96" lengthAdjust="spacingAndGlyphs">t/T</text>
<text x="500.53" y="233.4" font-size="16.0" style="stroke:#111;stroke-width:0.15" textLength="9.83" lengthAdjust="spacingAndGlyphs">≥</text>
<text x="514.29" y="232.81" font-size="14.81" style="stroke:#111;stroke-width:0.15" textLength="32.32" lengthAdjust="spacingAndGlyphs">1000</text>
<text x="504.88" y="197.45" font-size="14.81" style="font-style:italic;stroke:#111;stroke-width:0.15" textLength="6.81" lengthAdjust="spacingAndGlyphs">γ</text>
<text x="511.3" y="200.45" font-size="11.9" style="stroke:#111;stroke-width:0.15" textLength="20.92" lengthAdjust="spacingAndGlyphs">max</text>
<text x="537.52" y="198.37" font-size="14.86" style="stroke:#111;stroke-width:0.15" textLength="9.88" lengthAdjust="spacingAndGlyphs">=</text>
<text x="551.06" y="197.72" font-size="14.52" style="stroke:#111;stroke-width:0.15" textLength="32.85" lengthAdjust="spacingAndGlyphs">1993</text>
<text x="112.44" y="177.55" font-size="14.36" style="font-style:italic;stroke:#111;stroke-width:0.15" textLength="5.71" lengthAdjust="spacingAndGlyphs">f</text>
<text x="118.9" y="180.6" font-size="8.75" style="font-style:italic;stroke:#111;stroke-width:0.15" textLength="12.27" lengthAdjust="spacingAndGlyphs">RF</text>
<text x="137.02" y="178.77" font-size="14.86" style="stroke:#111;stroke-width:0.15" textLength="9.88" lengthAdjust="spacingAndGlyphs">=</text>
<text x="151.38" y="178.11" font-size="14.96" style="stroke:#111;stroke-width:0.15" textLength="8.24" lengthAdjust="spacingAndGlyphs">0</text>
<text x="156.36" y="137.83" font-size="13.57" style="font-style:italic;fill:#333" textLength="4.67" lengthAdjust="spacingAndGlyphs">t</text>
<text x="161.8" y="141.35" font-size="19.85" style="fill:#333" textLength="5.87" lengthAdjust="spacingAndGlyphs">/</text>
<text x="167.93" y="138.0" font-size="13.28" style="font-style:italic;fill:#333" textLength="8.6" lengthAdjust="spacingAndGlyphs">T</text>
<text x="494.36" y="137.83" font-size="13.57" style="font-style:italic;fill:#333" textLength="4.67" lengthAdjust="spacingAndGlyphs">t</text>
<text x="499.8" y="141.35" font-size="19.85" style="fill:#333" textLength="5.87" lengthAdjust="spacingAndGlyphs">/</text>
<text x="505.93" y="138.0" font-size="13.28" style="font-style:italic;fill:#333" textLength="8.6" lengthAdjust="spacingAndGlyphs">T</text>
<text x="146.89" y="274.83" font-size="13.63" style="font-style:italic;fill:#333" textLength="8.32" lengthAdjust="spacingAndGlyphs">S</text>
<text x="484.39" y="274.83" font-size="13.63" style="font-style:italic;fill:#333" textLength="8.32" lengthAdjust="spacingAndGlyphs">S</text>
<text x="477.49" y="83.11" font-size="15.11" style="font-style:italic;stroke:#111;stroke-width:0.15" textLength="8.32" lengthAdjust="spacingAndGlyphs">S</text>
<text x="489.5" y="83.22" font-size="14.1" style="stroke:#111;stroke-width:0.15" textLength="10.12" lengthAdjust="spacingAndGlyphs">=</text>
<text x="503.82" y="83.11" font-size="15.11" style="stroke:#111;stroke-width:0.15" textLength="27.26" lengthAdjust="spacingAndGlyphs">32.8</text>
<line x1="471.4" y1="77.1" x2="462.04" y2="61.71" stroke="#000" stroke-width="1.8"/>
<path d="M461,60 L468.23,64.96 L463.29,63.76 L462.08,68.71 Z" fill="#000"/>
<line x1="131.6" y1="184.1" x2="141.53" y2="197.78" stroke="#000" stroke-width="1.8"/>
<path d="M142.7,199.4 L135.09,195.04 L140.12,195.84 L140.92,190.81 Z" fill="#000"/>
<line x1="498.6" y1="192.8" x2="482.4" y2="178.62" stroke="#000" stroke-width="1.8"/>
<path d="M480.9,177.3 L489.29,179.86 L484.21,180.2 L484.55,185.28 Z" fill="#000"/>
</svg></body></html>
